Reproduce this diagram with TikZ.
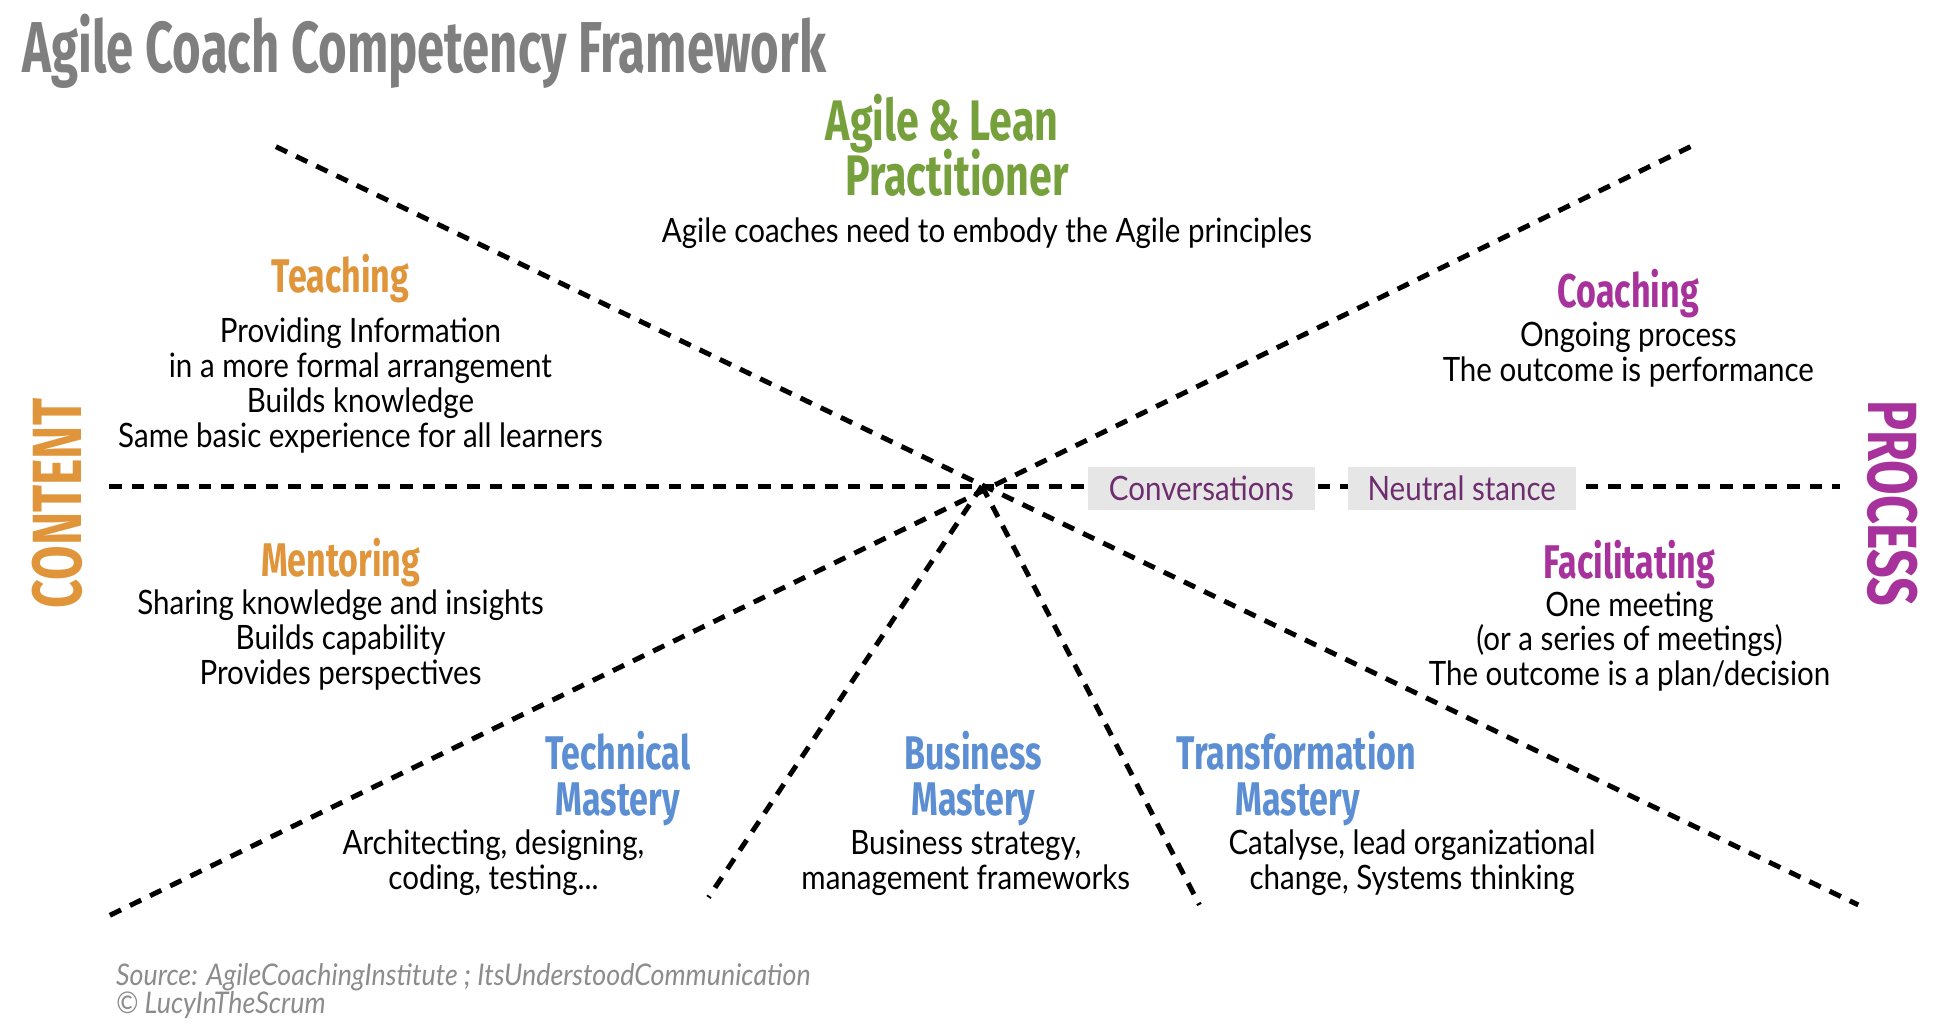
\documentclass[tikz,border=0pt]{standalone}
\usepackage{fontspec}
\setmainfont{Lato}
\newfontfamily\bodyf[FakeStretch=0.88]{Lato}
\newfontfamily\headf[FakeStretch=0.72]{Fira Sans}
\newfontfamily\titlef[FakeStretch=0.68]{Fira Sans}
\newfontfamily\footf[FakeStretch=0.9]{Lato}
\definecolor{ttlgray}{HTML}{7F7F7F}
\definecolor{orng}{HTML}{E0953A}
\definecolor{grn}{HTML}{76A03C}
\definecolor{mgnt}{HTML}{A8329C}
\definecolor{blu}{HTML}{5B8ED2}
\definecolor{convp}{HTML}{6E2E6E}
\definecolor{boxg}{HTML}{E6E6E6}
\definecolor{footg}{HTML}{8C8C8C}
\tikzset{
  head/.style={font=\headf\bfseries\fontsize{19}{22}\selectfont, align=center, inner sep=0pt},
  mhead/.style={head, anchor=base},
  bighead/.style={font=\headf\bfseries\fontsize{23}{24}\selectfont, inner sep=0pt, anchor=base},
  body/.style={font=\bodyf\fontsize{13.5}{14}\selectfont, align=center, inner sep=0pt},
  dline/.style={line width=2pt, dash pattern=on 5pt off 4pt},
  tagbox/.style={fill=boxg, text=convp, font=\bodyf\fontsize{13.5}{14}\selectfont,
                 minimum width=91.5pt, minimum height=17pt, inner sep=0pt},
  sidelbl/.style={font=\headf\bfseries\fontsize{28}{30}\selectfont, inner sep=0pt},
  foot/.style={font=\footf\itshape\fontsize{12}{12}\selectfont, text=footg, inner sep=0pt, anchor=base west}
}
\begin{document}
\begin{tikzpicture}[x=0.5pt,y=-0.5pt]
\useasboundingbox[fill=white] (0,0) rectangle (1568,825);

% connector end points
\coordinate (c) at (790,391);
\coordinate (hL) at (88,391);
\coordinate (hR) at (1480,391);
\coordinate (aTL) at (222,118);
\coordinate (aBR) at (1495,728);
\coordinate (bTR) at (1360,118);
\coordinate (bBL) at (85,738);
\coordinate (dB1) at (570,722);
\coordinate (dB2) at (965,728);

\draw[dline] (hL) -- (hR);
\draw[dline] (aTL) -- (aBR);
\draw[dline] (bTR) -- (bBL);
\draw[dline] (c) -- (dB1);
\draw[dline] (c) -- (dB2);

% tags on the horizontal line
\node[tagbox] (conv) at (966.5,393) {Conversations};
\node[tagbox] (neut) at (1176,393) {Neutral stance};

% title
\node[font=\titlef\bfseries\fontsize{29}{30}\selectfont, text=ttlgray, anchor=base west, inner sep=0pt] (title) at (18,58) {Agile Coach Competency Framework};

% top
\node[bighead, text=grn] (alp1) at (758,113) {Agile \& Lean};
\node[bighead, text=grn] (alp2) at (770,157) {Practitioner};
\node[body] (alpb) at (794,188) {Agile coaches need to embody the Agile principles};

% teaching
\node[head, text=orng] (teach) at (274,224) {Teaching};
\node[body] (teachb) at (290,310) {Providing Information\\in a more formal arrangement\\Builds knowledge\\Same basic experience for all learners};

% mentoring
\node[head, text=orng] (ment) at (274,453) {Mentoring};
\node[body] (mentb) at (274,515) {Sharing knowledge and insights\\Builds capability\\Provides perspectives};

% coaching
\node[head, text=mgnt] (coach) at (1310,236) {Coaching};
\node[body] (coachb) at (1310,285) {Ongoing process\\The outcome is performance};

% facilitating
\node[head, text=mgnt] (facil) at (1311,454) {Facilitating};
\node[body] (facilb) at (1311,516) {One meeting\\(or a series of meetings)\\The outcome is a plan/decision};

% side labels
\node[sidelbl, text=orng, rotate=90] (content) at (46,405) {CONTENT};
\node[sidelbl, text=mgnt, rotate=-90] (process) at (1523,405) {PROCESS};

% masteries
\node[mhead, text=blu] (tech1) at (497,619) {Technical};
\node[mhead, text=blu] (tech2) at (497,656) {Mastery};
\node[body] (techb) at (397,694) {Architecting, designing,\\coding, testing...};

\node[mhead, text=blu] (bus1) at (783,619) {Business};
\node[mhead, text=blu] (bus2) at (783,656) {Mastery};
\node[body] (busb) at (777,694) {Business strategy,\\management frameworks};

\node[mhead, text=blu] (tra1) at (1043,619) {Transformation};
\node[mhead, text=blu] (tra2) at (1044,656) {Mastery};
\node[body] (trab) at (1136,694) {Catalyse, lead organizational\\change, Systems thinking};

% footer
\node[foot] (src) at (93,793) {Source: AgileCoachingInstitute ; ItsUnderstoodCommunication};
\node[foot] (copy) at (93,815) {\textcopyright{} LucyInTheScrum};
\end{tikzpicture}
\end{document}
